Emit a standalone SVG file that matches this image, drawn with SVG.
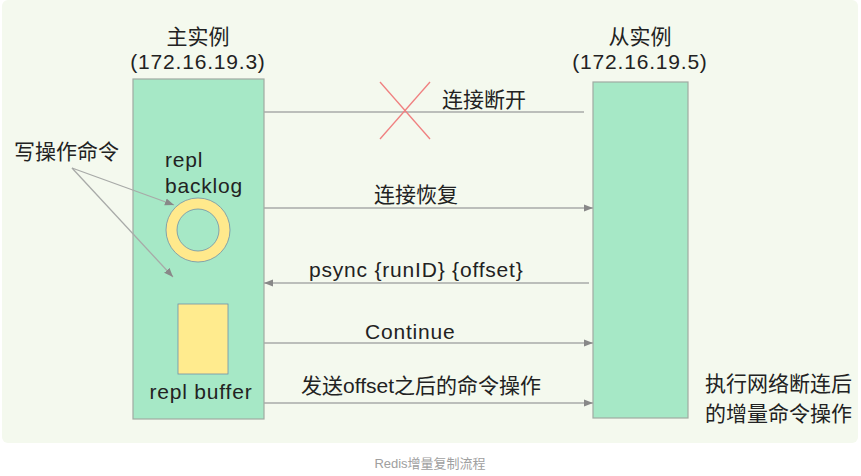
<svg xmlns="http://www.w3.org/2000/svg" width="861" height="476" viewBox="0 0 861 476">
<style>
text{font-family:"Liberation Sans","Noto Sans CJK SC",sans-serif;font-size:21px;fill:#222}
.l{letter-spacing:0.8px}
.c{stroke:#a8aaa8;stroke-width:1.3;fill:none}
.box{fill:#a6e8c6;stroke:#a0aaa2;stroke-width:1.2}
</style>
<defs><marker id="a" viewBox="0 0 10 10" refX="10" refY="5" markerWidth="7" markerHeight="7" orient="auto"><path d="M0,1L10,5L0,9z" fill="#888"/></marker></defs>
<rect width="861" height="476" fill="#fff"/>
<rect x="2" y="0" width="856" height="443" rx="6" fill="#f4f9ee"/>
<g id="master">
<text x="198" y="44" text-anchor="middle">主实例</text>
<text x="198" y="69" text-anchor="middle" class="l">(172.16.19.3)</text>
<rect class="box" x="133" y="79" width="131" height="340"/>
<text x="165" y="167" class="l">repl</text>
<text x="165" y="193" class="l">backlog</text>
<circle cx="198" cy="230" r="26.5" fill="none" stroke="#ffe98c" stroke-width="11"/>
<circle cx="198" cy="230" r="32" fill="none" stroke="#7090a8" stroke-width="0.8"/>
<circle cx="198" cy="230" r="21" fill="none" stroke="#7090a8" stroke-width="0.8"/>
<rect x="178" y="304" width="50" height="70" fill="#ffeb8e" stroke="#7090a8" stroke-width="0.8"/>
<text x="201" y="399" text-anchor="middle" class="l">repl buffer</text>
</g>
<g id="slave">
<text x="640" y="44" text-anchor="middle">从实例</text>
<text x="640" y="69" text-anchor="middle" class="l">(172.16.19.5)</text>
<rect class="box" x="593" y="82" width="95" height="336"/>
</g>
<g id="write-label">
<text x="14" y="159">写操作命令</text>
</g>
<g id="result-label">
<text x="705" y="391">执行网络断连后</text>
<text x="705" y="421">的增量命令操作</text>
</g>
<g id="connectors">
<line class="c" x1="72" y1="168" x2="174" y2="205" marker-end="url(#a)"/>
<line class="c" x1="72" y1="168" x2="173" y2="277" marker-end="url(#a)"/>
<line class="c" x1="264" y1="112" x2="584" y2="112"/>
<line x1="380" y1="82" x2="430" y2="139" stroke="#f08080" stroke-width="1.3"/>
<line x1="430" y1="82" x2="380" y2="139" stroke="#f08080" stroke-width="1.3"/>
<text x="442" y="107">连接断开</text>
<line class="c" x1="264" y1="208" x2="593" y2="208" marker-end="url(#a)"/>
<text x="374" y="202">连接恢复</text>
<line class="c" x1="589" y1="283" x2="264" y2="283" marker-end="url(#a)"/>
<text x="309" y="277" class="l">psync {runID} {offset}</text>
<line class="c" x1="264" y1="343" x2="593" y2="343" marker-end="url(#a)"/>
<text x="365" y="339" class="l">Continue</text>
<line class="c" x1="264" y1="403" x2="593" y2="403" marker-end="url(#a)"/>
<text x="301" y="393">发送offset之后的命令操作</text>
</g>
<text x="430" y="468" text-anchor="middle" style="font-size:13px;fill:#a0a0a0">Redis增量复制流程</text>
</svg>
